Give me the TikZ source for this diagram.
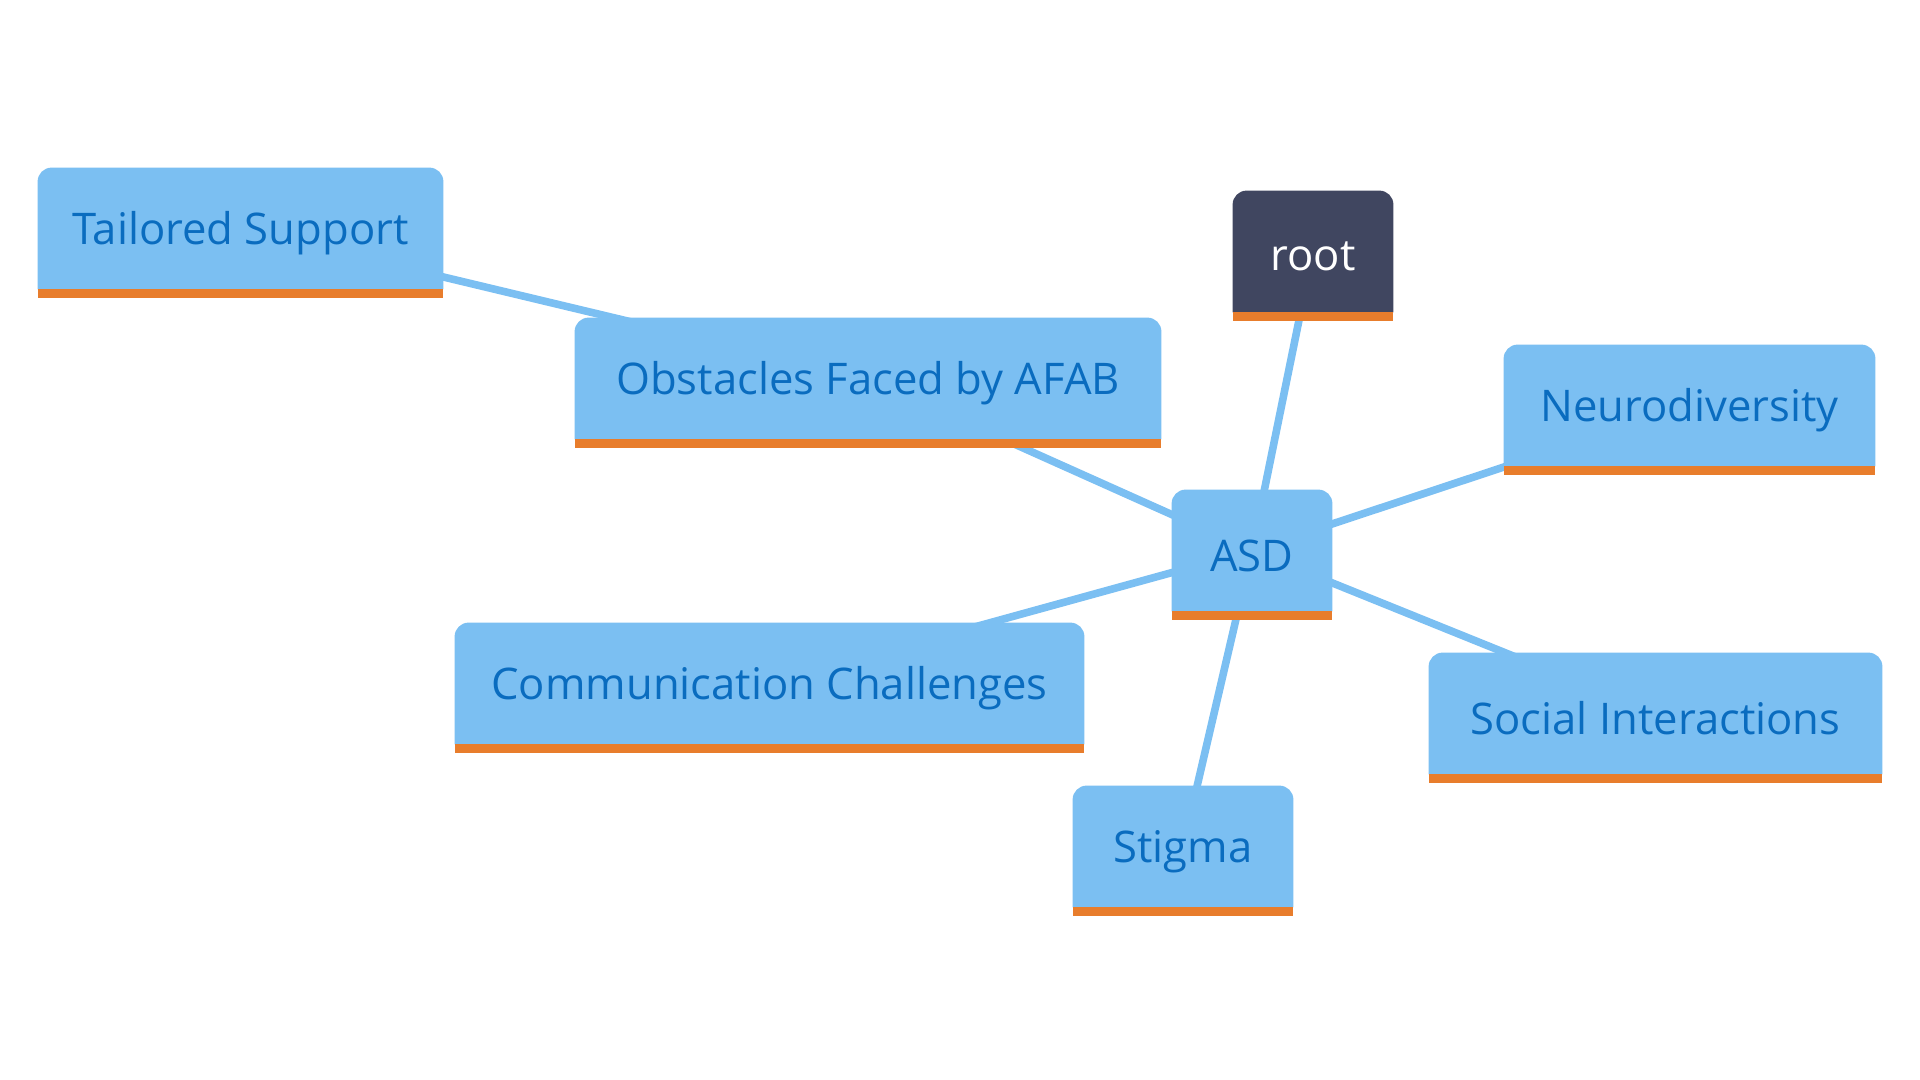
\documentclass[tikz,border=0pt]{standalone}
\usepackage{fontspec}
\setmainfont{Open Sans}
\pgfdeclarelayer{edges}
\pgfdeclarelayer{boxes}
\pgfsetlayers{edges,boxes,main}
\definecolor{boxblue}{HTML}{7BBFF2}
\definecolor{txtblue}{HTML}{0A6CBF}
\definecolor{barorange}{HTML}{E87D2C}
\definecolor{rootfill}{HTML}{404660}
\tikzset{
  mm/.style={font=\fontsize{21.8}{26}\selectfont, text=txtblue, inner sep=0pt, minimum height=60.5pt, anchor=center},
  conn/.style={draw=boxblue, line width=3.8pt},
}
\newcommand\lowtxt[1]{\raisebox{-2.5pt}[\height][\depth]{#1}}
\newcommand\mmbox[2]{%
  \begin{pgfonlayer}{boxes}
    \fill[#2] (#1.south west) [rounded corners=7pt] -- (#1.north west) -- (#1.north east) [sharp corners] -- (#1.south east) -- cycle;
    \fill[barorange] (#1.south west) rectangle ([yshift=-4.5pt]#1.south east);
  \end{pgfonlayer}}
\begin{document}
\begin{tikzpicture}[x=0.5pt,y=-0.5pt]
  \useasboundingbox (0,0) rectangle (1920,1080);
  \node[mm, minimum width=202.5pt] (tail) at (240.5,228.5) {\lowtxt{Tailored Support}};
  \node[mm, minimum width=80pt, text=white] (root) at (1313,251.5) {\lowtxt{root}};
  \node[mm, minimum width=293pt] (obst) at (868,378.5) {\lowtxt{Obstacles Faced by AFAB}};
  \node[mm, minimum width=185.5pt] (neuro) at (1689.5,405.5) {\lowtxt{Neurodiversity}};
  \node[mm, minimum width=80pt] (asd) at (1252,550.5) {\lowtxt{ASD}};
  \node[mm, minimum width=314.5pt] (comm) at (769.5,683.5) {\lowtxt{Communication Challenges}};
  \node[mm, minimum width=226.5pt] (social) at (1655.5,713.5) {\lowtxt{Social Interactions}};
  \node[mm, minimum width=110pt] (stig) at (1183,846.5) {\lowtxt{Stigma}};
  \mmbox{tail}{boxblue}
  \mmbox{root}{rootfill}
  \mmbox{obst}{boxblue}
  \mmbox{neuro}{boxblue}
  \mmbox{asd}{boxblue}
  \mmbox{comm}{boxblue}
  \mmbox{social}{boxblue}
  \mmbox{stig}{boxblue}
  \begin{pgfonlayer}{edges}
    \draw[conn] (asd.center) -- (root.center);
    \draw[conn] (asd.center) -- (obst.center);
    \draw[conn] (asd.center) -- (neuro.center);
    \draw[conn] (asd.center) -- (comm.center);
    \draw[conn] (asd.center) -- (social.center);
    \draw[conn] (asd.center) -- (stig.center);
    \draw[conn] (obst.center) -- (tail.center);
  \end{pgfonlayer}
\end{tikzpicture}
\end{document}
